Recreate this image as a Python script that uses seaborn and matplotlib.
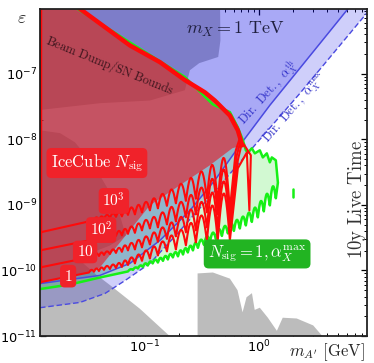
import numpy as np
import pandas as pd
import seaborn as sns
import matplotlib
matplotlib.use("Agg")
import matplotlib.pyplot as plt

# ---- data (masses in GeV, couplings in units of 1e-10 where noted) ----
# IceCube N_sig contours: cusp masses shared by all contours
red_cusp_m = [0.0323, 0.0357, 0.0395, 0.0437, 0.0493, 0.0557, 0.0628, 0.0710, 0.0817, 0.0942,
              0.1106, 0.130, 0.156, 0.187, 0.229, 0.280, 0.350, 0.436, 0.557]

n1000_left = 3.80
n1000_cusp = [5.60, 5.80, 5.90, 6.11, 6.33, 6.56, 6.67, 7.03, 7.16, 7.68, 8.24, 8.84, 9.65, 10.55, 11.5, 12.4, 12.6, 10.8, 8.53]
n1000_peak = [6.11, 6.45, 6.67, 7.03, 7.41, 7.82, 8.24, 9.16, 10.0, 11.1, 12.6, 14.7, 17.2, 21.0, 25.9, 32.4, 40.8, 52.2]
n1000_end_m = [0.628, 0.681]
n1000_end_e = [68.0, 104.0]

n100_left = 2.02
n100_cusp = [2.87, 2.94, 3.02, 3.13, 3.24, 3.36, 3.42, 3.61, 3.74, 4.08, 4.37, 4.53, 5.03, 5.60, 6.45, 7.16, 7.68, 7.16, 6.01]
n100_peak = [3.13, 3.30, 3.42, 3.61, 3.80, 4.01, 4.30, 4.69, 5.21, 5.90, 6.56, 7.68, 9.32, 11.1, 14.2, 18.4, 25.0, 34.8]
n100_end_m = [0.641, 0.695]
n100_end_e = [57.0, 96.6]

n10_left = 1.11
n10_cusp = [1.58, 1.62, 1.66, 1.72, 1.78, 1.85, 1.92, 2.02, 2.09, 2.25, 2.49, 2.73, 3.02, 3.30, 3.80, 4.08, 4.53, 4.37, 4.53]
n10_peak = [1.72, 1.82, 1.88, 1.95, 2.09, 2.21, 2.41, 2.63, 2.92, 3.30, 3.80, 4.53, 5.40, 6.56, 8.53, 11.1, 15.5, 22.9]
n10_end_m = [0.654, 0.709]
n10_end_e = [47.8, 86.9]

n1_left = 0.66
n1_cusp = [0.93, 0.955, 0.98, 1.02, 1.05, 1.09, 1.13, 1.21, 1.28, 1.40, 1.52, 1.69, 1.95, 2.09, 2.41, 2.68, 2.87, 2.87, 2.87]
n1_peak = [1.02, 1.07, 1.11, 1.17, 1.23, 1.30, 1.42, 1.58, 1.75, 2.02, 2.32, 2.77, 3.42, 4.16, 5.31, 6.91, 9.82, 15.0]
n1_end_m = [0.654, 0.785, 0.826, 0.851, 0.738]
n1_end_e = [36.1, 63.0, 8.24, 57.0, 83.8]

# upper edge of the IceCube region (absolute eps)
top_m = [0.0245, 0.0738, 0.1355, 0.2244, 0.336, 0.411, 0.557, 0.654, 0.716]
top_e = [1.1e-6, 2.7e-7, 1.5e-7, 8.0e-8, 5.2e-8, 3.9e-8, 2.3e-8, 1.37e-8, 8.1e-9]
# lower edge of the red shading, right to left (units 1e-10)
redfill_low_m = [0.585, 0.3716, 0.2028, 0.1106, 0.0403, 0.0323, 0.012]
redfill_low_e = [72.9, 40.1, 19.9, 9.82, 1.11, 0.93, 0.66]

# N_sig = 1, alpha_max (green)
green_smooth_m = [0.012, 0.022, 0.0403]
green_smooth_e = [0.52, 0.61, 0.78]
green_cusp_m = [0.0710, 0.0785, 0.0868, 0.0960, 0.106, 0.117, 0.130, 0.144, 0.159, 0.176, 0.195, 0.216, 0.238, 0.264,
                0.292, 0.330, 0.372, 0.420, 0.474, 0.535, 0.604, 0.681, 0.769, 0.868, 0.980, 1.106, 1.249, 1.410]
green_cusp_e = [0.965, 1.02, 1.07, 1.13, 1.19, 1.28, 1.32, 1.40, 1.47, 1.58, 1.64, 1.75, 1.88, 2.02,
                2.21, 2.45, 2.73, 3.02, 3.36, 3.67, 4.01, 4.37, 4.86, 5.50, 6.45, 7.96, 9.82, 12.6]
green_peak_e = [1.04, 1.11, 1.19, 1.28, 1.37, 1.46, 1.55, 1.66, 1.78, 1.90, 2.02, 2.18, 2.38, 2.63,
                2.94, 3.32, 3.77, 4.26, 4.77, 5.31, 5.90, 6.61, 7.60, 9.06, 11.4, 14.7, 19.1]
green_edge_m = [1.47, 1.41, 1.30, 1.249, 1.175, 1.084, 1.02, 0.922, 0.868, 0.801, 0.769, 0.724, 0.654, 0.557,
                0.395, 0.2244, 0.0738, 0.0230]
green_edge_e = [2.18e-9, 4.78e-9, 5.29e-9, 4.45e-9, 6.1e-9, 5.29e-9, 6.79e-9, 6.1e-9, 7.29e-9, 6.3e-9, 6.8e-9,
                9.7e-9, 1.52e-8, 2.6e-8, 3.4e-8, 8.9e-8, 3.0e-7, 1.1e-6]
green_frag_m = [1.99, 1.99]
green_frag_e = [1.76e-9, 1.30e-9]

# direct detection lines
dd_th_m = [0.012, 0.0403, 0.0738, 0.1355, 0.2483, 0.4111, 0.6813, 1.249, 2.29, 6.04, 10.0]
dd_th_e = [6.3e-11, 8.4e-11, 1.28e-10, 2.87e-10, 8.2e-10, 2.37e-9, 8.1e-9, 3.3e-8, 1.21e-7, 9.7e-7, 2.7e-6]
dd_max_m = [0.012, 0.0269, 0.0446, 0.0668, 0.1106, 0.183, 0.3036, 0.709, 2.29, 8.86, 10.0]
dd_max_e = [2.7e-11, 3.25e-11, 4.45e-11, 7.0e-11, 1.28e-10, 3.3e-10, 8.9e-10, 4.8e-9, 5.0e-8, 8.4e-7, 1.1e-6]

# beam dump / SN excluded regions (grey)
bd_m = [0.012, 0.012, 0.0403, 0.1106, 0.2244, 0.2483, 0.30, 0.44, 0.46, 0.455]
bd_e = [2e-6, 2.8e-8, 3.55e-8, 3.9e-8, 5.6e-8, 1.13e-7, 1.45e-7, 1.8e-7, 3.2e-7, 2e-6]
sn_m = [0.012, 0.012, 0.018, 0.0243, 0.0329, 0.0403, 0.0493, 0.0603, 0.068, 0.0493, 0.0329, 0.0269,
        0.0372, 0.0525, 0.0904, 0.176]
sn_e = [9e-12, 1.37e-8, 1.24e-8, 9e-9, 4.8e-9, 2.8e-9, 1.55e-9, 6.9e-10, 3.4e-10, 2.4e-10, 1.82e-10, 1.42e-10,
        8.7e-11, 5.5e-11, 2.6e-11, 9e-12]
dd_grey_m = [0.29, 0.29, 0.395, 0.557, 0.65, 0.72, 0.78, 0.87, 0.92, 1.02, 1.2, 1.44, 1.62, 2.15, 3.0, 3.8]
dd_grey_e = [9e-12, 9e-11, 9.3e-11, 7.5e-11, 5e-11, 2.3e-11, 3.9e-11, 4.5e-11, 2.5e-11, 2.7e-11, 1.9e-11,
             1.2e-11, 1.9e-11, 1.85e-11, 1.45e-11, 9e-12]

x_ticks = [0.1, 1.0]
y_ticks = [1e-11, 1e-10, 1e-9, 1e-8, 1e-7]


def scallop(cm, ce, pe, n=14):
    # arches between cusps, drawn in log space
    lm, lc, lp = np.log10(cm), np.log10(ce), np.log10(pe)
    xs, ys = [], []
    t = np.linspace(0, 1, n)
    for i in range(len(lp)):
        base = lc[i] * (1 - t) + lc[i + 1] * t
        bump = lp[i] - 0.5 * (lc[i] + lc[i + 1])
        xs.extend(lm[i] * (1 - t) + lm[i + 1] * t)
        ys.extend(base + bump * np.sin(np.pi * t))
    return 10 ** np.array(xs), 10 ** np.array(ys)


def contour(left, cusp, peak, end_m, end_e):
    xs, ys = scallop(red_cusp_m, np.array(cusp) * 1e-10, np.array(peak) * 1e-10)
    x = np.concatenate([[0.012], xs, end_m, [top_m[-1]]])
    y = np.concatenate([[left * 1e-10], ys, np.array(end_e) * 1e-10, [top_e[-1]]])
    return pd.DataFrame({"m": x, "eps": y})


sns.set_theme(style="ticks")
plt.rcParams["font.family"] = ["DejaVu Sans"]

fig = plt.figure(figsize=(3.74, 3.63), dpi=100)
ax = fig.add_axes([40 / 374, 27 / 363, 327 / 374, 327 / 363])
ax.set_xscale("log")
ax.set_yscale("log")

grey = "#bcbcbc"
ax.fill(bd_m, bd_e, color=grey, lw=0, zorder=1)
ax.fill(sn_m, sn_e, color=grey, lw=0, zorder=1)
ax.fill(dd_grey_m, dd_grey_e, color=grey, lw=0, zorder=1)

blue = (0.02, 0.02, 0.9)
ax.fill(dd_max_m + [10.0, 0.012], dd_max_e + [1e-5, 1e-5], color=blue, alpha=0.19, lw=0, zorder=2)
ax.fill(dd_th_m + [10.0, 0.012], dd_th_e + [1e-5, 1e-5], color=blue, alpha=0.19, lw=0, zorder=2)

# green region
gx, gy = scallop(green_cusp_m, np.array(green_cusp_e) * 1e-10, np.array(green_peak_e) * 1e-10)
green_x = np.concatenate([green_smooth_m, gx, green_edge_m])
green_y = np.concatenate([np.array(green_smooth_e) * 1e-10, gy, green_edge_e])
ax.fill(np.append(green_x, 0.012), np.append(green_y, 1.1e-6), color=(0.2, 0.9, 0.2), alpha=0.22, lw=0, zorder=3)

sns.lineplot(x=dd_th_m, y=dd_th_e, ax=ax, color="#4a4ae0", lw=1.1, sort=False, estimator=None, zorder=4)
sns.lineplot(x=dd_max_m, y=dd_max_e, ax=ax, color="#4a4ae0", lw=1.0, sort=False, estimator=None,
             dashes=False, zorder=4).lines[-1].set_dashes([4, 2])

# red shading
rx = np.concatenate([[0.012], top_m, redfill_low_m])
ry = np.concatenate([[1.1e-6], top_e, np.array(redfill_low_e) * 1e-10])
ax.fill(rx, ry, color=(0.9, 0.1, 0.15), alpha=0.63, lw=0, zorder=5)

green_line = pd.DataFrame({"m": green_x, "eps": green_y})
sns.lineplot(data=green_line, x="m", y="eps", ax=ax, color="#16f016", lw=1.8, sort=False, estimator=None, zorder=6)
sns.lineplot(x=green_frag_m, y=green_frag_e, ax=ax, color="#16f016", lw=1.8, sort=False, estimator=None, zorder=6)

for left, cusp, peak, em, ee in [(n1_left, n1_cusp, n1_peak, n1_end_m, n1_end_e),
                                  (n10_left, n10_cusp, n10_peak, n10_end_m, n10_end_e),
                                  (n100_left, n100_cusp, n100_peak, n100_end_m, n100_end_e),
                                  (n1000_left, n1000_cusp, n1000_peak, n1000_end_m, n1000_end_e)]:
    sns.lineplot(data=contour(left, cusp, peak, em, ee), x="m", y="eps", ax=ax, color="#ff0a0a",
                 lw=1.5, sort=False, estimator=None, zorder=7)

sns.lineplot(x=top_m, y=top_e, ax=ax, color="#ff0a0a", lw=3.2, sort=False, estimator=None, zorder=8)
ax.plot([0.012, 0.012], [n1_left * 1e-10, 1.1e-6], color="#ff0a0a", lw=3.2, zorder=8)

ax.set_xlim(0.012, 8.9)
ax.set_ylim(1e-11, 9.7e-7)
ax.set_xticks(x_ticks)
ax.set_yticks(y_ticks)
ax.set_xlabel("")
ax.set_ylabel("")
ax.tick_params(which="both", direction="in", top=True, right=True, labelsize=9.3, colors="black", pad=2)
ax.tick_params(which="major", length=4.5, width=0.9)
ax.tick_params(which="minor", length=2.5, width=0.7)
for s in ax.spines.values():
    s.set_linewidth(1.3)
    s.set_color("#222222")
    s.set_zorder(20)

cm = dict(math_fontfamily="cm")
T = ax.transAxes
ax.text(0.214, 0.829, r"$\mathrm{Beam\ Dump/SN\ Bounds}$", transform=T, rotation=-22, ha="center",
        va="center", fontsize=9, color="#3a141c", zorder=10, **cm)
ax.text(0.596, 0.936, r"$m_X = 1\ \mathrm{TeV}$", transform=T, ha="center", va="center", fontsize=13,
        color="#202040", zorder=10, **cm)
ax.text(0.699, 0.746, r"$\mathrm{Dir.\ Det.,}\ \alpha_X^{\mathrm{th}}$", transform=T, rotation=48,
        ha="center", va="center", fontsize=9, color="#3030c8", zorder=10, **cm)
ax.text(0.779, 0.697, r"$\mathrm{Dir.\ Det.,}\ \alpha_X^{\mathrm{max}}$", transform=T, rotation=49,
        ha="center", va="center", fontsize=9, color="#3030c8", zorder=10, **cm)
ax.text(0.968, 0.416, r"$\mathrm{10y\ Live\ Time}$", transform=T, rotation=90, ha="center", va="center",
        fontsize=13.5, color="#333333", zorder=10, **cm)

redbox = dict(boxstyle="round,pad=0.25,rounding_size=0.3", fc="#f0222a", ec="none")
ax.text(0.174, 0.529, r"$\mathrm{IceCube}\ N_{\mathrm{sig}}$", transform=T, ha="center", va="center",
        fontsize=12, color="white", bbox=redbox, zorder=10, **cm)
for lab, px, py in [(r"$10^3$", 0.226, 0.413), (r"$10^2$", 0.187, 0.324), (r"$10$", 0.138, 0.257),
                    (r"$1$", 0.086, 0.183)]:
    ax.text(px, py, lab, transform=T, ha="center", va="center", fontsize=11, color="white",
            bbox=redbox, zorder=10, **cm)
ax.text(0.664, 0.251, r"$N_{\mathrm{sig}} = 1, \alpha_X^{\mathrm{max}}$", transform=T, ha="center",
        va="center", fontsize=12, color="white",
        bbox=dict(boxstyle="round,pad=0.25,rounding_size=0.3", fc="#22b422", ec="none"), zorder=10, **cm)

fig.text(22 / 374, 1 - 18 / 363, r"$\varepsilon$", ha="center", va="center", fontsize=13, **cm)
fig.text(327 / 374, 1 - 352 / 363, r"$m_{A^\prime}\ [\mathrm{GeV}]$", ha="center", va="center",
         fontsize=12, **cm)

fig.savefig("out.png", dpi=100)
